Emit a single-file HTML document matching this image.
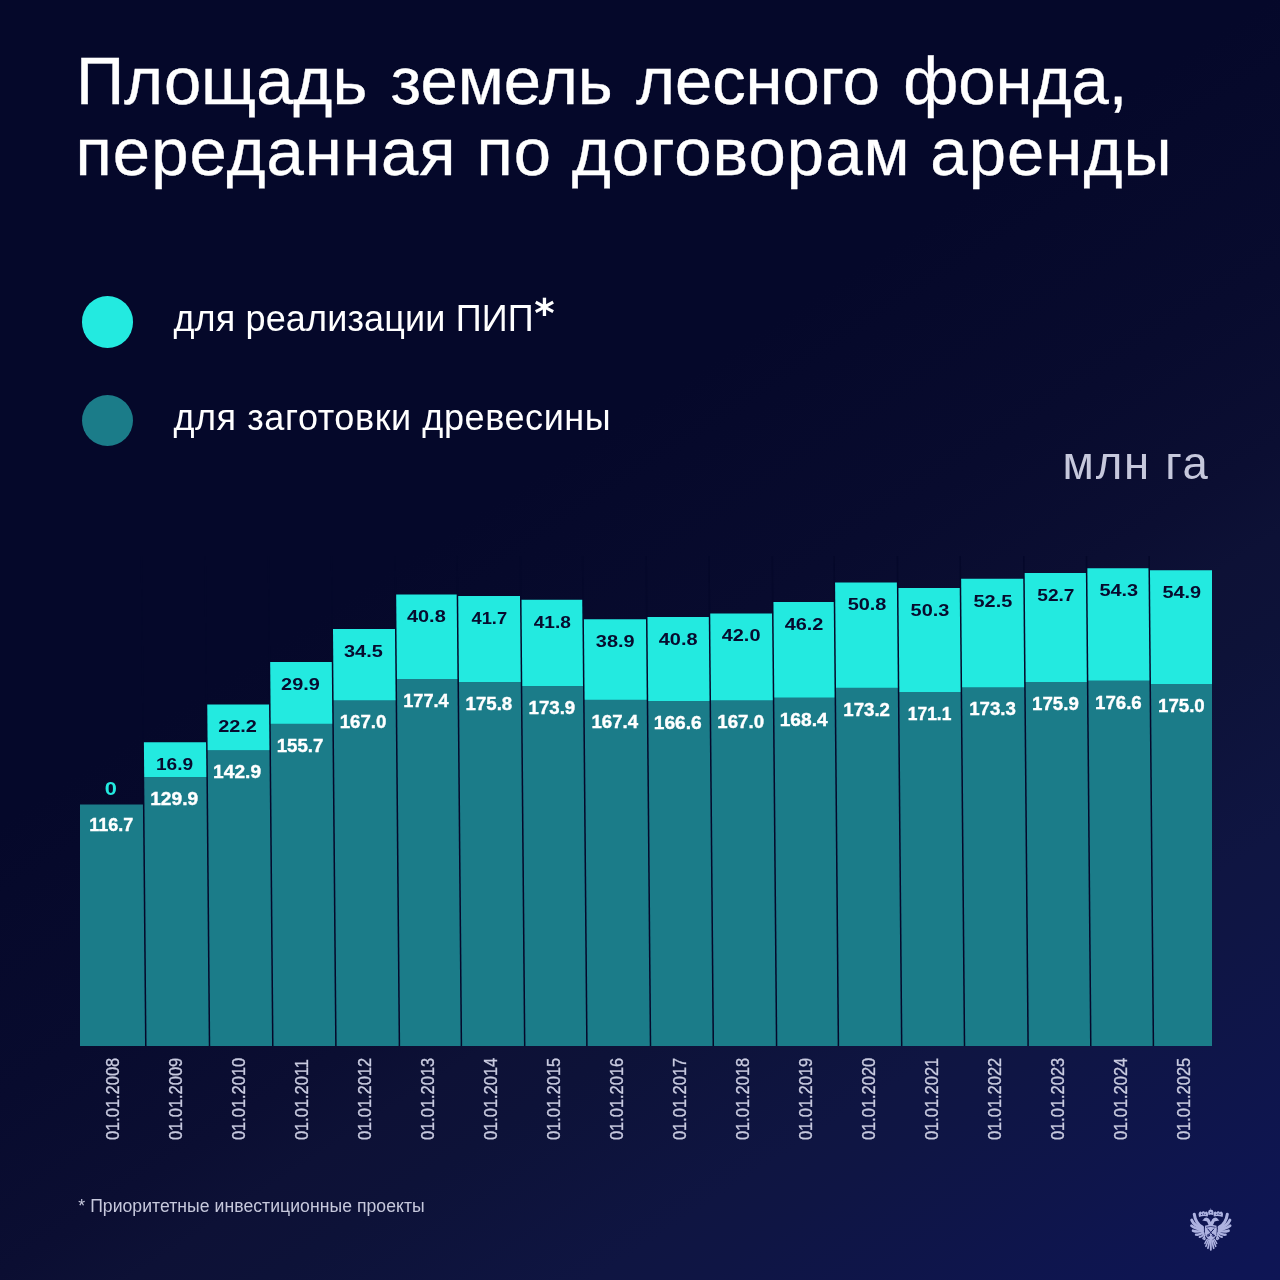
<!DOCTYPE html>
<html lang="ru">
<head>
<meta charset="utf-8">
<title>Площадь земель лесного фонда, переданная по договорам аренды</title>
<style>
html,body{margin:0;padding:0}
html{background:#05082a}
body{width:1280px;height:1280px;overflow:hidden;position:relative;
  font-family:"Liberation Sans",sans-serif;color:#fff;background:#05082a}
.bg{position:absolute;left:0;top:0;width:1280px;height:1280px;
  background:linear-gradient(147deg,#05082a 0%,#05082a 39%,#06092b 42.5%,#080b2e 52%,#0b0e32 60.3%,#0d1136 64.6%,#0d1238 68.8%,#0f1542 78.9%,#0f1544 82%,#0e1554 98.4%,#0e1555 100%)}
h1{position:absolute;left:76px;top:46px;margin:0;font-weight:400;font-size:67px;line-height:70.5px;white-space:nowrap;color:#fff;-webkit-text-stroke:0.35px #fff}
h1 span{display:block}
h1 .l1{letter-spacing:-0.06px;word-spacing:4.8px}
h1 .l2{letter-spacing:1.07px;margin-left:-0.5px}
.legend{position:absolute;left:0;top:0;margin:0;padding:0;list-style:none}
.legend li{position:absolute;left:81.7px;white-space:nowrap;font-size:36px;line-height:45.4px;height:51.4px;padding-left:91.7px}
.legend li i{position:absolute;left:0;top:0;width:51.4px;height:51.4px;border-radius:50%}
.legend .a{top:296.2px;letter-spacing:0.15px} .legend .a i{background:#23eae0}
.legend .b{top:394.9px;letter-spacing:0.59px} .legend .b i{background:#1b7c89}
.legend sup{position:absolute;font-family:"DejaVu Sans","Liberation Sans",sans-serif;font-weight:700;font-size:39px;line-height:1;left:452.6px;top:-2.6px;letter-spacing:0;vertical-align:baseline}
.unit{position:absolute;right:70.4px;top:441.3px;font-size:45.5px;letter-spacing:1.75px;line-height:1;color:#c6c8dc;white-space:nowrap;margin:0}
.note{position:absolute;left:78.3px;top:1197.5px;font-size:17.6px;letter-spacing:0.05px;line-height:1;color:#c6c8dc;white-space:nowrap;margin:0}
svg{position:absolute;left:0;top:0}
svg text{font-family:"Liberation Sans",sans-serif}
.v{font-size:17px;font-weight:700;text-anchor:middle}
.w{fill:#fff;stroke:#fff;stroke-width:0.35px} .k{fill:#070b2e} .c{fill:#23eae0}
.d{font-size:16.45px;fill:#c9cbe0;stroke:#c9cbe0;stroke-width:0.3px}
</style>
</head>
<body>
<div class="bg"></div>
<h1><span class="l1">Площадь земель лесного фонда,</span><span class="l2">переданная по договорам аренды</span></h1>
<ul class="legend">
<li class="a"><i></i>для реализации ПИП<sup>*</sup></li>
<li class="b"><i></i>для заготовки древесины</li>
</ul>
<p class="unit">млн га</p>
<svg width="1280" height="1280" viewBox="0 0 1280 1280">
<g id="bars">
<polygon points="80,804.55 143.68,804.55 145.8,1046 80,1046" fill="#1b7c89"/>
<polygon points="143.13,742.27 206.83,742.27 207.14,777.54 143.44,777.54" fill="#23eae0"/>
<polygon points="143.43,777.24 207.13,777.24 209.5,1046 145.8,1046" fill="#1b7c89"/>
<polygon points="206.49,704.41 269.79,704.41 270.2,750.64 206.9,750.64" fill="#23eae0"/>
<polygon points="206.9,750.34 270.2,750.34 272.8,1046 209.5,1046" fill="#1b7c89"/>
<polygon points="269.42,661.99 332.52,661.99 333.07,724.16 269.97,724.16" fill="#23eae0"/>
<polygon points="269.97,723.86 333.07,723.86 335.9,1046 272.8,1046" fill="#1b7c89"/>
<polygon points="332.23,629.1 395.73,629.1 396.36,700.78 332.86,700.78" fill="#23eae0"/>
<polygon points="332.86,700.48 396.36,700.48 399.4,1046 335.9,1046" fill="#1b7c89"/>
<polygon points="395.43,594.54 457.43,594.54 458.17,679.26 396.17,679.26" fill="#23eae0"/>
<polygon points="396.17,678.96 458.17,678.96 461.4,1046 399.4,1046" fill="#1b7c89"/>
<polygon points="457.44,595.99 520.74,595.99 521.5,682.57 458.2,682.57" fill="#23eae0"/>
<polygon points="458.2,682.27 521.5,682.27 524.7,1046 461.4,1046" fill="#1b7c89"/>
<polygon points="520.77,599.72 582.97,599.72 583.74,686.5 521.54,686.5" fill="#23eae0"/>
<polygon points="521.53,686.2 583.73,686.2 586.9,1046 524.7,1046" fill="#1b7c89"/>
<polygon points="583.14,619.17 646.74,619.17 647.45,699.95 583.85,699.95" fill="#23eae0"/>
<polygon points="583.85,699.65 647.45,699.65 650.5,1046 586.9,1046" fill="#1b7c89"/>
<polygon points="646.72,616.89 709.52,616.89 710.27,701.6 647.47,701.6" fill="#23eae0"/>
<polygon points="647.47,701.3 710.27,701.3 713.3,1046 650.5,1046" fill="#1b7c89"/>
<polygon points="709.49,613.58 772.79,613.58 773.56,700.78 710.26,700.78" fill="#23eae0"/>
<polygon points="710.26,700.48 773.56,700.48 776.6,1046 713.3,1046" fill="#1b7c89"/>
<polygon points="772.69,601.99 834.49,601.99 835.34,697.88 773.54,697.88" fill="#23eae0"/>
<polygon points="773.53,697.58 835.33,697.58 838.4,1046 776.6,1046" fill="#1b7c89"/>
<polygon points="834.32,582.54 897.62,582.54 898.55,687.95 835.25,687.95" fill="#23eae0"/>
<polygon points="835.25,687.65 898.55,687.65 901.7,1046 838.4,1046" fill="#1b7c89"/>
<polygon points="897.67,587.92 960.47,587.92 961.39,692.29 898.59,692.29" fill="#23eae0"/>
<polygon points="898.58,691.99 961.38,691.99 964.5,1046 901.7,1046" fill="#1b7c89"/>
<polygon points="960.39,578.82 1023.99,578.82 1024.95,687.74 961.35,687.74" fill="#23eae0"/>
<polygon points="961.34,687.44 1024.94,687.44 1028.1,1046 964.5,1046" fill="#1b7c89"/>
<polygon points="1023.94,573.03 1086.64,573.03 1087.6,682.36 1024.9,682.36" fill="#23eae0"/>
<polygon points="1024.9,682.06 1087.6,682.06 1090.8,1046 1028.1,1046" fill="#1b7c89"/>
<polygon points="1086.6,568.27 1149.2,568.27 1150.19,680.91 1087.59,680.91" fill="#23eae0"/>
<polygon points="1087.58,680.61 1150.18,680.61 1153.4,1046 1090.8,1046" fill="#1b7c89"/>
<polygon points="1149.21,570.34 1212,570.34 1212,684.22 1150.22,684.22" fill="#23eae0"/>
<polygon points="1150.21,683.92 1212,683.92 1212,1046 1153.4,1046" fill="#1b7c89"/>
</g>
<g id="separators" stroke="#05082a" stroke-width="1.5">
<line x1="141.49" y1="556" x2="145.8" y2="1046"/>
<line x1="205.19" y1="556" x2="209.5" y2="1046"/>
<line x1="268.49" y1="556" x2="272.8" y2="1046"/>
<line x1="331.59" y1="556" x2="335.9" y2="1046"/>
<line x1="395.09" y1="556" x2="399.4" y2="1046"/>
<line x1="457.09" y1="556" x2="461.4" y2="1046"/>
<line x1="520.39" y1="556" x2="524.7" y2="1046"/>
<line x1="582.59" y1="556" x2="586.9" y2="1046"/>
<line x1="646.19" y1="556" x2="650.5" y2="1046"/>
<line x1="708.99" y1="556" x2="713.3" y2="1046"/>
<line x1="772.29" y1="556" x2="776.6" y2="1046"/>
<line x1="834.09" y1="556" x2="838.4" y2="1046"/>
<line x1="897.39" y1="556" x2="901.7" y2="1046"/>
<line x1="960.19" y1="556" x2="964.5" y2="1046"/>
<line x1="1023.79" y1="556" x2="1028.1" y2="1046"/>
<line x1="1086.49" y1="556" x2="1090.8" y2="1046"/>
<line x1="1149.09" y1="556" x2="1153.4" y2="1046"/>
</g>
<g id="values">
<text class="v w" transform="translate(111.2 831.05) scale(1.061 1.06)">116.7</text>
<text class="v c" transform="translate(110.8 795.15) scale(1.28 1.03)">0</text>
<text class="v w" transform="translate(174.15 805.24) scale(1.128 1.06)">129.9</text>
<text class="v k" transform="translate(174.55 770.17) scale(1.125 1)">16.9</text>
<text class="v w" transform="translate(237.1 778.34) scale(1.128 1.06)">142.9</text>
<text class="v k" transform="translate(237.5 732.31) scale(1.172 1)">22.2</text>
<text class="v w" transform="translate(300.05 751.86) scale(1.098 1.06)">155.7</text>
<text class="v k" transform="translate(300.45 689.89) scale(1.172 1)">29.9</text>
<text class="v w" transform="translate(363 728.48) scale(1.098 1.06)">167.0</text>
<text class="v k" transform="translate(363.4 657) scale(1.172 1)">34.5</text>
<text class="v w" transform="translate(425.95 706.96) scale(1.069 1.06)">177.4</text>
<text class="v k" transform="translate(426.35 622.44) scale(1.172 1)">40.8</text>
<text class="v w" transform="translate(488.9 710.27) scale(1.098 1.06)">175.8</text>
<text class="v k" transform="translate(489.3 623.89) scale(1.078 1)">41.7</text>
<text class="v w" transform="translate(551.85 714.2) scale(1.098 1.06)">173.9</text>
<text class="v k" transform="translate(552.25 627.62) scale(1.125 1)">41.8</text>
<text class="v w" transform="translate(614.8 727.65) scale(1.098 1.06)">167.4</text>
<text class="v k" transform="translate(615.2 647.07) scale(1.172 1)">38.9</text>
<text class="v w" transform="translate(677.75 729.3) scale(1.128 1.06)">166.6</text>
<text class="v k" transform="translate(678.15 644.79) scale(1.172 1)">40.8</text>
<text class="v w" transform="translate(740.7 728.48) scale(1.098 1.06)">167.0</text>
<text class="v k" transform="translate(741.1 641.48) scale(1.172 1)">42.0</text>
<text class="v w" transform="translate(803.65 725.58) scale(1.128 1.06)">168.4</text>
<text class="v k" transform="translate(804.05 629.89) scale(1.172 1)">46.2</text>
<text class="v w" transform="translate(866.6 715.65) scale(1.098 1.06)">173.2</text>
<text class="v k" transform="translate(867 610.44) scale(1.172 1)">50.8</text>
<text class="v w" transform="translate(929.55 719.99) scale(1.025 1.06)">171.1</text>
<text class="v k" transform="translate(929.95 615.82) scale(1.172 1)">50.3</text>
<text class="v w" transform="translate(992.5 715.44) scale(1.098 1.06)">173.3</text>
<text class="v k" transform="translate(992.9 606.72) scale(1.172 1)">52.5</text>
<text class="v w" transform="translate(1055.45 710.06) scale(1.098 1.06)">175.9</text>
<text class="v k" transform="translate(1055.85 600.93) scale(1.125 1)">52.7</text>
<text class="v w" transform="translate(1118.4 708.61) scale(1.098 1.06)">176.6</text>
<text class="v k" transform="translate(1118.8 596.17) scale(1.172 1)">54.3</text>
<text class="v w" transform="translate(1181.35 711.92) scale(1.098 1.06)">175.0</text>
<text class="v k" transform="translate(1181.75 598.24) scale(1.172 1)">54.9</text>
</g>
<g id="dates">
<text class="d" transform="translate(118.6 1140.1) rotate(-90) scale(1 1.06)">01.01.2008</text>
<text class="d" transform="translate(181.63 1140.1) rotate(-90) scale(1 1.06)">01.01.2009</text>
<text class="d" transform="translate(244.66 1140.1) rotate(-90) scale(1 1.06)">01.01.2010</text>
<text class="d" transform="translate(307.69 1140.1) rotate(-90) scale(1 1.06)">01.01.2011</text>
<text class="d" transform="translate(370.72 1140.1) rotate(-90) scale(1 1.06)">01.01.2012</text>
<text class="d" transform="translate(433.75 1140.1) rotate(-90) scale(1 1.06)">01.01.2013</text>
<text class="d" transform="translate(496.78 1140.1) rotate(-90) scale(1 1.06)">01.01.2014</text>
<text class="d" transform="translate(559.81 1140.1) rotate(-90) scale(1 1.06)">01.01.2015</text>
<text class="d" transform="translate(622.84 1140.1) rotate(-90) scale(1 1.06)">01.01.2016</text>
<text class="d" transform="translate(685.87 1140.1) rotate(-90) scale(1 1.06)">01.01.2017</text>
<text class="d" transform="translate(748.9 1140.1) rotate(-90) scale(1 1.06)">01.01.2018</text>
<text class="d" transform="translate(811.93 1140.1) rotate(-90) scale(1 1.06)">01.01.2019</text>
<text class="d" transform="translate(874.96 1140.1) rotate(-90) scale(1 1.06)">01.01.2020</text>
<text class="d" transform="translate(937.99 1140.1) rotate(-90) scale(1 1.06)">01.01.2021</text>
<text class="d" transform="translate(1001.02 1140.1) rotate(-90) scale(1 1.06)">01.01.2022</text>
<text class="d" transform="translate(1064.05 1140.1) rotate(-90) scale(1 1.06)">01.01.2023</text>
<text class="d" transform="translate(1127.08 1140.1) rotate(-90) scale(1 1.06)">01.01.2024</text>
<text class="d" transform="translate(1190.11 1140.1) rotate(-90) scale(1 1.06)">01.01.2025</text>
</g>
<g id="emblem" transform="translate(1180 1195)" fill="#adb2e0" stroke="none">
<g id="wingL" fill="none" stroke="#adb2e0" stroke-linecap="round">
<path d="M22.4 32.2Q15.6 28.6 14.3 19.4" stroke-width="3.1"/>
<path d="M22.4 33.2Q14.2 31 11.7 25.1" stroke-width="2.9"/>
<path d="M22.6 34.4Q15.2 34 11.5 30.7" stroke-width="2.75"/>
<path d="M22.8 35.8Q17 37.2 13 35.7" stroke-width="2.6"/>
<path d="M23.2 37.4Q19.4 40.2 16 39.6" stroke-width="2.4"/>
<path d="M23.8 39Q21.6 42.2 19.7 42" stroke-width="2.15"/>
<path d="M24.6 40.4Q24 43.2 23.1 43.5" stroke-width="1.8"/>
</g>
<g id="wingR" fill="none" stroke="#adb2e0" stroke-linecap="round" transform="translate(61.6 0) scale(-1 1)">
<path d="M22.4 32.2Q15.6 28.6 14.3 19.4" stroke-width="3.1"/>
<path d="M22.4 33.2Q14.2 31 11.7 25.1" stroke-width="2.9"/>
<path d="M22.6 34.4Q15.2 34 11.5 30.7" stroke-width="2.75"/>
<path d="M22.8 35.8Q17 37.2 13 35.7" stroke-width="2.6"/>
<path d="M23.2 37.4Q19.4 40.2 16 39.6" stroke-width="2.4"/>
<path d="M23.8 39Q21.6 42.2 19.7 42" stroke-width="2.15"/>
<path d="M24.6 40.4Q24 43.2 23.1 43.5" stroke-width="1.8"/>
</g>
<path id="shield" d="M25.2 30.4Q28 30.6 30.8 29Q33.6 30.6 36.4 30.4Q37.2 34 36.6 38.4Q36 43 30.8 45.6Q25.6 43 25 38.4Q24.4 34 25.2 30.4Z"/>
<path id="necks" d="M28.8 30.4L27 26.6Q25.6 25.6 22.2 25.4L23.6 24.2Q24.2 22.4 26.4 22.4Q28.6 22.6 29.6 24.6L30.8 27L32 24.6Q33 22.6 35.2 22.4Q37.4 22.4 38 24.2L39.4 25.4Q36 25.6 34.6 26.6L32.8 30.4Z"/>
<path id="crowns" d="M19 22Q17.8 18.6 19.4 17Q20.8 15.8 21.8 17.4Q22.2 16.2 23.4 16.2Q24.6 16.2 25 17.4Q26 15.8 27.4 17Q28.6 18.6 27.8 21.4Q23.4 20.2 19 22Z M42.6 22Q43.8 18.6 42.2 17Q40.8 15.8 39.8 17.4Q39.4 16.2 38.2 16.2Q37 16.2 36.6 17.4Q35.6 15.8 34.2 17Q33 18.6 33.8 21.4Q38.2 20.2 42.6 22Z M28.6 20Q27.4 16.8 28.8 15.2Q29.8 14.4 30.4 15L30.8 12.8L31.2 15Q31.8 14.4 32.8 15.2Q34.2 16.8 33 20Q30.8 19 28.6 20Z"/>
<g id="tail" fill="none" stroke="#adb2e0" stroke-linecap="round">
<path d="M30.8 45.5L30.8 54.7" stroke-width="1.9"/>
<path d="M29.6 45.5Q28.6 50.5 27.9 53.3" stroke-width="1.7"/>
<path d="M32 45.5Q33 50.5 33.7 53.3" stroke-width="1.7"/>
<path d="M28.4 45Q26.8 49 25.9 51.3" stroke-width="1.6"/>
<path d="M33.2 45Q34.8 49 35.7 51.3" stroke-width="1.6"/>
<path d="M27.2 44.4Q25.6 46.8 24.9 48.5" stroke-width="1.5"/>
<path d="M34.4 44.4Q36 46.8 36.7 48.5" stroke-width="1.5"/>
</g>
<path id="claws" d="M22.4 42.8Q23.4 41.2 25.2 42Q26.4 43.4 25.4 44.8Q24 45.6 23 44.6Q24.6 44.2 24.2 43.2Q23.4 42.6 22.4 42.8Z M39.2 42.8Q38.2 41.2 36.4 42Q35.2 43.4 36.2 44.8Q37.6 45.6 38.6 44.6Q37 44.2 37.4 43.2Q38.2 42.6 39.2 42.8Z"/>
<g id="shield-detail" fill="none" stroke="#141a5e" stroke-width="1" stroke-linecap="round">
<path d="M27.8 34L33.8 41M33.8 34L27.8 41"/>
<path d="M26.4 32.2Q30.8 30.6 35.2 32.2" stroke-width="0.7"/>
<circle cx="28.4" cy="40.4" r="1.1" stroke-width="0.7"/>
<circle cx="33.2" cy="40.4" r="1.1" stroke-width="0.7"/>
</g>
<g id="crown-detail" fill="#141a5e">
<path d="M30.8 21.4L32.2 23.6L30.8 26.2L29.4 23.6Z"/>
<circle cx="21.6" cy="19.4" r="0.55"/><circle cx="23.4" cy="18.9" r="0.55"/><circle cx="25.2" cy="19.3" r="0.55"/>
<circle cx="40" cy="19.4" r="0.55"/><circle cx="38.2" cy="18.9" r="0.55"/><circle cx="36.4" cy="19.3" r="0.55"/>
<circle cx="30.8" cy="17.4" r="0.6"/>
</g>
</g>

</svg>
<p class="note">* Приоритетные инвестиционные проекты</p>
</body>
</html>
